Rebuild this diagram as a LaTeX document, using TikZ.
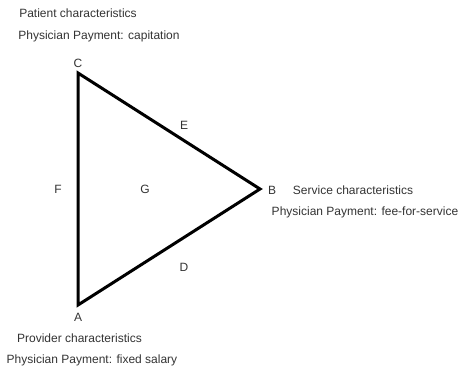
\documentclass[tikz,border=0pt]{standalone}
\usepackage{fontspec}
\setmainfont{Liberation Sans}
\begin{document}
\begin{tikzpicture}[x=1pt,y=-1pt,
  lbl/.style={inner sep=0pt, text=black!80, font=\fontsize{12}{14}\selectfont},
  edge/.style={line width=3pt, line join=miter, line cap=butt}]
\useasboundingbox (0,0) rectangle (462,367);
\coordinate (A) at (78,305);
\coordinate (B) at (260,189);
\coordinate (C) at (78,73);
\draw[edge] (A) -- (C) -- (B) -- cycle;
\node[lbl] (lc) at (78,63) {C};
\node[lbl] (lb) at (272,190) {B};
\node[lbl] (la) at (78,317) {A};
\node[lbl] (le) at (184,125) {E};
\node[lbl] (ld) at (184,267) {D};
\node[lbl] (lf) at (58,189) {F};
\node[lbl] (lg) at (145,189) {G};
\node[lbl] (pc) at (78,13) {Patient characteristics};
\node[lbl] (pcap) at (99,36) {Physician Payment: capitation};
\node[lbl] (sc) at (353,190) {Service characteristics};
\node[lbl] (pfee) at (365,212) {Physician Payment: fee-for-service};
\node[lbl] (prc) at (79.5,338) {Provider characteristics};
\node[lbl] (psal) at (92,360) {Physician Payment: fixed salary};
\end{tikzpicture}
\end{document}
